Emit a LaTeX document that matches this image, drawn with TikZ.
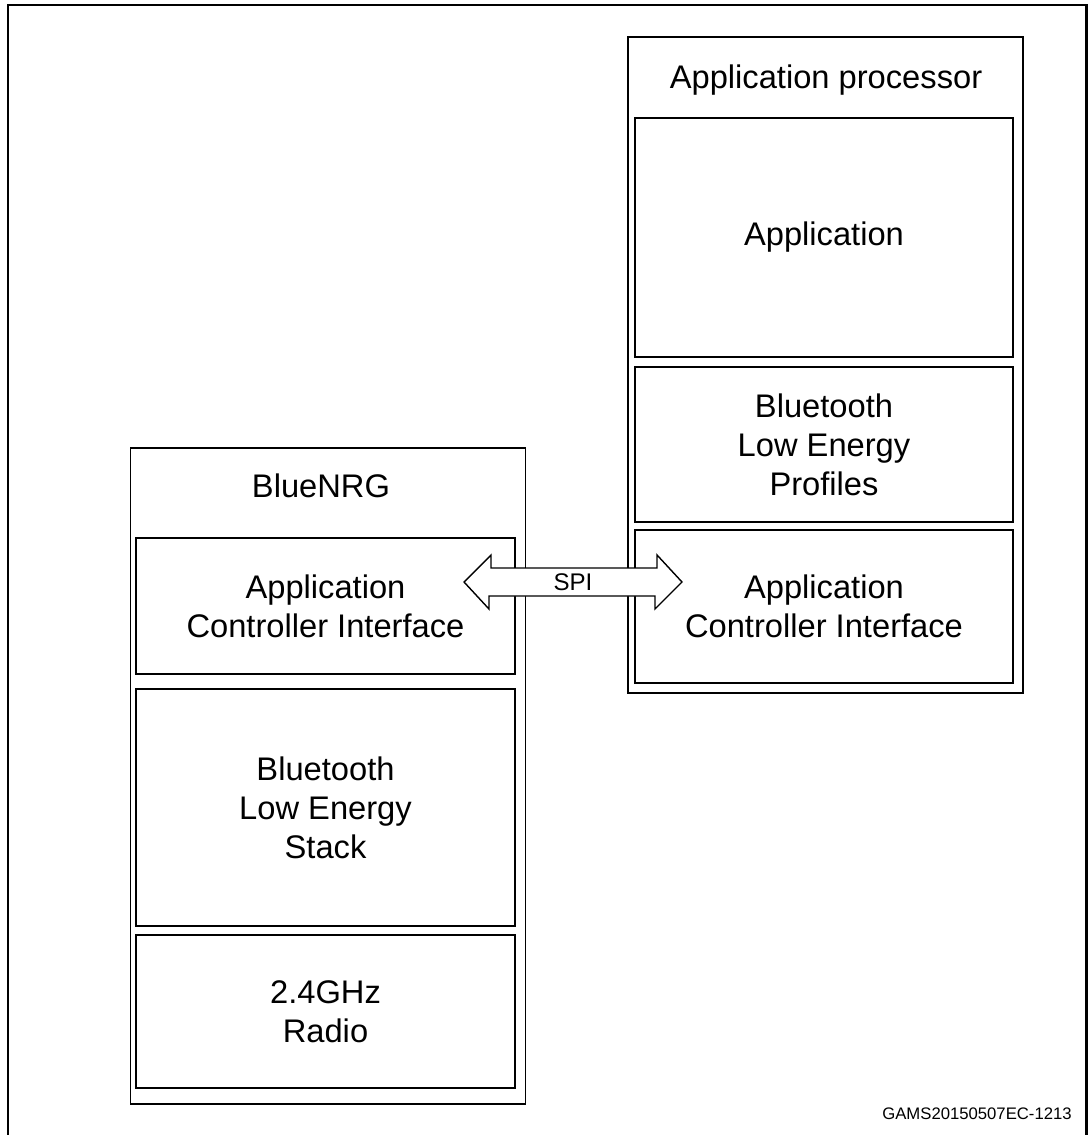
\documentclass[tikz,border=0pt]{standalone}
\usepackage{fontspec}
\setmainfont{Liberation Sans}
\usepackage{tikz}
\usetikzlibrary{calc}

\tikzset{
    outerbox/.style={draw, line width=0.8pt, minimum width=7.9cm},
    layerbox/.style={draw, line width=1.2pt, align=center, font=\fontsize{18.6}{22.3}\selectfont},
    title/.style={font=\fontsize{18.6}{22.3}\selectfont},
}

\begin{document}
\begin{tikzpicture}[x=0.02cm, y=-0.02cm]
    \useasboundingbox (0, 0) rectangle (1088, 1135);
    \draw[line width=1.7pt] (8, 1140) -- (8, 5) -- (1086, 5) -- (1086, 1140);

    % BlueNRG side
    \node[outerbox, minimum height=13.12cm] at (328, 776) (bluenrg) {};
    \node[title] at (321, 486) (bluenrgTitle) {BlueNRG};
    \node[layerbox, minimum width=7.58cm, minimum height=2.72cm] at (325.5, 606) (aciL) {Application\\Controller Interface};
    \node[layerbox, minimum width=7.58cm, minimum height=4.74cm] at (325.5, 807.5) (stack) {Bluetooth\\Low Energy\\Stack};
    \node[layerbox, minimum width=7.58cm, minimum height=3.06cm] at (325.5, 1011.5) (radio) {2.4GHz\\Radio};

    % application processor side
    \node[outerbox, minimum height=13.12cm] at (825.5, 365) (appProc) {};
    \node[title] at (826, 80) (appProcTitle) {Application processor};
    \node[layerbox, minimum width=7.56cm, minimum height=4.78cm] at (824, 237.5) (app) {Application};
    \node[layerbox, minimum width=7.56cm, minimum height=3.1cm] at (824, 444.5) (profiles) {Bluetooth\\Low Energy\\Profiles};
    \node[layerbox, minimum width=7.56cm, minimum height=3.06cm] at (824, 606.5) (aciR) {Application\\Controller Interface};

    % SPI link
    \coordinate (spiL) at ($(aciL.east) + (-52, -24)$);
    \coordinate (spiR) at ($(aciR.west) + (48, -24.5)$);
    \draw[line width=0.8pt, fill=white] (spiL) -- ++(27, -27) -- ++(0, 13) -- ++(166, 0) -- ++(0, -13)
        -- (spiR) -- ++(-27, 27) -- ++(0, -13) -- ++(-166, 0) -- ++(0, 13) -- cycle;
    \node[font=\fontsize{13.7}{16}\selectfont] at ($(spiL)!0.5!(spiR)$) (spi) {SPI};

    \node[font=\fontsize{9.5}{11}\selectfont] at (977, 1114) (code) {GAMS20150507EC-1213};
\end{tikzpicture}
\end{document}
